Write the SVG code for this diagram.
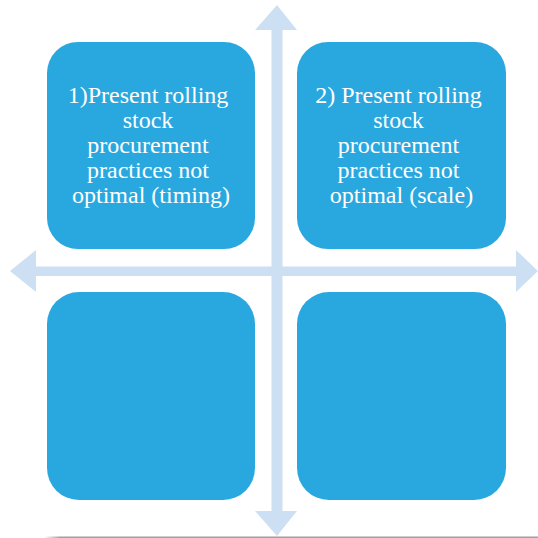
<svg xmlns="http://www.w3.org/2000/svg" width="538" height="538" viewBox="0 0 538 538">
<defs>
<style>
.box{fill:#29A8E0;}
.arrow{fill:#CDE0F3;}
.t{font-family:"Liberation Serif","Times New Roman",serif;font-size:24px;fill:#FFFFFF;text-anchor:middle;}
</style>
<linearGradient id="fade" x1="0" y1="0" x2="1" y2="0">
<stop offset="0" stop-color="#A0A0A0" stop-opacity="0"/>
<stop offset="1" stop-color="#A0A0A0" stop-opacity="1"/>
</linearGradient>
</defs>
<rect width="538" height="538" fill="#FFFFFF"/>
<g id="connectors">
<polygon class="arrow" points="277,5 297,30 282.5,30 282.5,266.5 516,266.5 516,250 538,271 516,292 516,276 282.5,276 282.5,511 297,511 277,536 255,511 271.5,511 271.5,276 36,276 36,292 10,271 36,250 36,266.5 271.5,266.5 271.5,30 255,30"/>
</g>
<g id="node1">
<rect class="box" x="47" y="42" width="208" height="207" rx="31" ry="31"/>
<text class="t">
<tspan x="151" y="103">1)Present rolling</tspan>
<tspan x="151" y="128">stock</tspan>
<tspan x="151" y="153">procurement</tspan>
<tspan x="151" y="178">practices not</tspan>
<tspan x="151" y="203">optimal (timing)</tspan>
</text>
</g>
<g id="node2">
<rect class="box" x="297" y="42" width="209" height="207" rx="31" ry="31"/>
<text class="t">
<tspan x="401.5" y="103">2) Present rolling</tspan>
<tspan x="401.5" y="128">stock</tspan>
<tspan x="401.5" y="153">procurement</tspan>
<tspan x="401.5" y="178">practices not</tspan>
<tspan x="401.5" y="203">optimal (scale)</tspan>
</text>
</g>
<g id="node3">
<rect class="box" x="47" y="292" width="208" height="208" rx="32" ry="32"/>
</g>
<g id="node4">
<rect class="box" x="297" y="292" width="209" height="208" rx="32" ry="32"/>
</g>
<rect x="44" y="536.5" width="16" height="1.5" fill="url(#fade)"/>
<rect x="60" y="536.5" width="478" height="1.5" fill="#A0A0A0"/>
</svg>
